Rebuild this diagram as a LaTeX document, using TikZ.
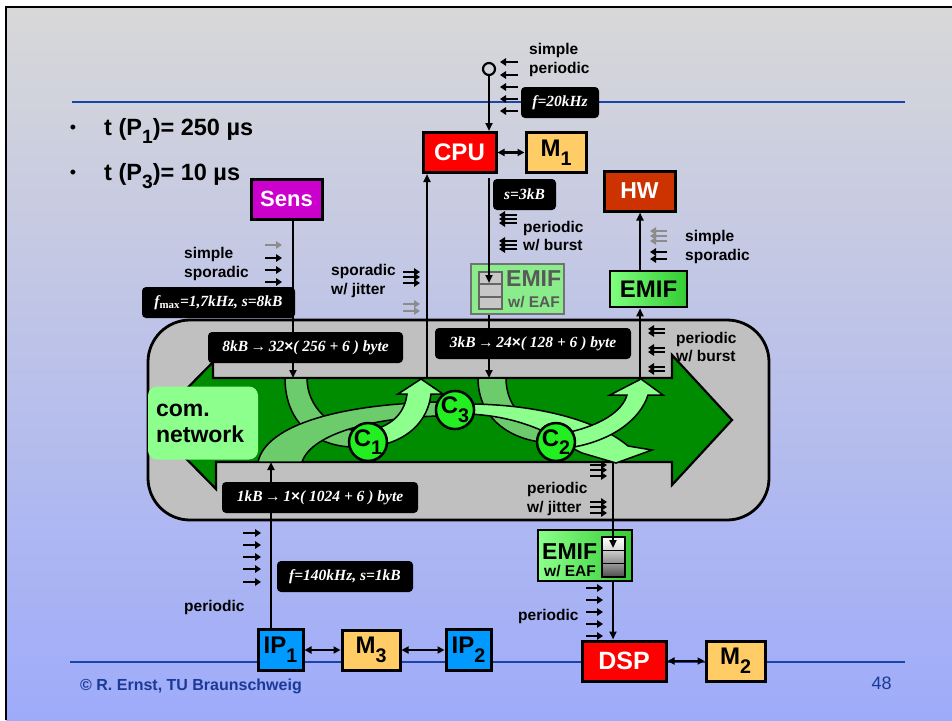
\documentclass[tikz,border=0pt]{standalone}
\usepackage{fontspec}
\usepackage{graphicx}
\setmainfont{Liberation Sans}
\newfontfamily\tms{Liberation Serif}
\usetikzlibrary{arrows.meta,positioning}
\definecolor{slidetop}{HTML}{D8D8D8}
\definecolor{slidebot}{HTML}{9EABFA}
\definecolor{ruleblue}{HTML}{1A44A8}
\definecolor{textblue}{HTML}{1A3A96}
\definecolor{memfill}{HTML}{FFCC66}
\definecolor{ipfill}{HTML}{0099FF}
\definecolor{hwfill}{HTML}{CC3300}
\definecolor{sensfill}{HTML}{CC00CC}
\definecolor{netgray}{HTML}{C0C0C0}
\definecolor{netgreen}{HTML}{008C00}
\definecolor{flowlight}{HTML}{8CFF8C}
\definecolor{flowmid}{HTML}{6CCC6C}
\definecolor{ctrlgreen}{HTML}{22EE22}
\definecolor{emifdark}{HTML}{33CC33}
\newcommand\lo[1]{\raisebox{-.36em}{\scalebox{.82}{#1}}}
\newcommand\fs[1]{\fontsize{#1}{#1}\selectfont}

\begin{document}
\begin{tikzpicture}[x=1pt,y=-1pt,
  blk/.style={draw=black, line width=3pt, inner sep=0pt, font=\fs{24}\bfseries},
  proc/.style={blk, fill=red, text=white},
  mem/.style={blk, fill=memfill, minimum height=40pt},
  ipbox/.style={blk, fill=ipfill, minimum width=45pt, minimum height=41pt},
  tag/.style={fill=black, rounded corners=4pt, text=white, inner sep=0pt, minimum height=31pt,
              font=\tms\fs{15.5}\bfseries\itshape},
  note/.style={anchor=west, inner sep=0pt, align=left, font=\fontsize{15.5}{18.5}\selectfont\bfseries},
  ctrl/.style={circle, draw=black, line width=2.5pt, fill=ctrlgreen, minimum size=37pt,
               inner sep=0pt, font=\fs{24}\bfseries},
  band/.style={draw=black, line width=1.5pt},
  arr/.style={-{Triangle[length=8pt,width=7pt]}, line width=2.2pt},
  darr/.style={{Triangle[length=7pt,width=7pt]}-{Triangle[length=7pt,width=7pt]}, line width=2.2pt},
  tick/.style={-{Triangle[length=6pt,width=7.5pt]}, line width=2.8pt}
]
  \useasboundingbox (0,0) rectangle (952,720);
  \fill[white] (0,0) rectangle (952,720);
  \shade[top color=slidetop, bottom color=slidebot] (6,7) rectangle (952,720);
  \draw[line width=2pt] (6,720) -- (6,7) -- (952,7);
  \draw[ruleblue, line width=1.2pt] (72,102) -- (905,102);
  \draw[ruleblue, line width=1.2pt] (70,662) -- (905,662);

  % bullets and footer
  \node[font=\fs{18}] (dot1) at (73,129) {•};
  \node[font=\fs{18}] (dot3) at (73,174) {•};
  \node[anchor=base west, inner sep=0pt, font=\fs{23.5}\bfseries] (tp1) at (104,135) {t (P\lo{1})= 250 µs};
  \node[anchor=base west, inner sep=0pt, font=\fs{23.5}\bfseries] (tp3) at (104,180) {t (P\lo{3})= 10 µs};
  \node[anchor=west, inner sep=0pt, text=textblue, font=\fs{16}\bfseries] (copy) at (80,686) {© R. Ernst, TU Braunschweig};
  \node[text=textblue, font=\fs{18}] (page) at (881.5,683.5) {48};

  % communication network
  \draw[fill=netgray, line width=2.8pt, rounded corners=42pt] (148,320) rectangle (769,520);
  \draw[fill=netgreen, line width=2.2pt] (152,424) -- (213,362) -- (213,378) -- (672,378) -- (672,355)
    -- (732,420) -- (672,485) -- (672,462) -- (216,462) -- (216,489) -- cycle;
  \coordinate (pS) at (293,378);
  \coordinate (pC) at (427,378);
  \coordinate (pE) at (489,378);
  \coordinate (pH) at (640,378);
  \coordinate (pI) at (271,462);
  \coordinate (pD) at (613,462);

  % flows through the controllers
  \draw[band, fill=flowmid] (285,378) .. controls (285,425) and (318,446) .. (352,447) -- (352,430)
    .. controls (332,427) and (307,408) .. (307,378) -- cycle;
  \draw[band, fill=flowmid] (258,462) .. controls (266,425) and (340,404) .. (440,402) -- (440,416)
    .. controls (380,417) and (312,432) .. (302,462) -- cycle;
  \draw[band, fill=flowmid] (478,378) .. controls (478,415) and (505,437) .. (540,442) -- (543,426)
    .. controls (522,421) and (506,404) .. (506,378) -- cycle;
  \draw[band, fill=flowlight] (372,430) .. controls (393,425) and (405,412) .. (407,394) -- (398,394)
    -- (421,379) -- (443,394) -- (431,394) .. controls (428,420) and (410,438) .. (382,445) -- cycle;
  \draw[band, fill=flowlight] (468,404) .. controls (530,404) and (595,418) .. (628,446) -- (652,450)
    -- (616,463) -- (582,453) -- (576,450) .. controls (555,435) and (520,416) .. (468,414) -- cycle;
  \draw[band, fill=flowlight] (570,432) .. controls (600,425) and (622,412) .. (627,395) -- (610,395)
    -- (641,379) -- (663,395) -- (648,395) .. controls (640,420) and (612,440) .. (574,447) -- cycle;

  % components
  \node[proc, minimum width=73pt, minimum height=40pt] (cpu) at (459.5,152.5) {CPU};
  \node[mem, minimum width=60pt, right=27pt of cpu] (m1) {M\lo{1}};
  \node[blk, fill=hwfill, text=white, minimum width=71pt, minimum height=40pt, font=\fs{23}\bfseries] (hw) at (639.5,191) {HW};
  \node[blk, fill=sensfill, text=white, minimum width=71pt, minimum height=40pt, font=\fs{22}\bfseries] (sens) at (286.5,199) {Sens};
  \node[ipbox] (ip1) at (280.5,650) {IP\lo{1}};
  \node[mem, minimum width=58pt, right=36pt of ip1] (m3) {M\lo{3}};
  \node[ipbox, right=43pt of m3] (ip2) {IP\lo{2}};
  \node[proc, minimum width=84pt, minimum height=40pt, font=\fs{25}\bfseries] (dsp) at (624,661) {DSP};
  \node[mem, minimum width=59pt, right=37pt of dsp] (m2) {M\lo{2}};
  \node[circle, draw, line width=2.2pt, minimum size=12pt, inner sep=0pt] (clk) at (489,69) {};

  % interfaces
  \node[draw=black!55, line width=2.5pt, fill=flowlight!85!gray, minimum width=93pt, minimum height=50pt, inner sep=0pt] (emifa) at (517.5,289) {};
  \foreach \k in {0,1,2}
    \draw[draw=black!60, line width=2pt, fill=black!22] (479,{272+12.33*\k}) rectangle ++(23,12.33);
  \node[anchor=west, inner sep=0pt, text=black!65, font=\fs{23}\bfseries] (emifat) at (506,279) {EMIF};
  \node[anchor=west, inner sep=0pt, text=black!65, font=\fs{15.5}\bfseries] (emifas) at (508,302) {w/ EAF};
  \node[draw=black, line width=2.5pt, left color=flowlight!90!green, right color=emifdark, minimum width=77pt, minimum height=36pt, inner sep=0pt, font=\fs{24}\bfseries] (emifb) at (648.5,289) {EMIF};
  \node[draw=black, line width=2.5pt, left color=flowlight, right color=emifdark, minimum width=94pt, minimum height=51pt, inner sep=0pt] (emifc) at (585,555.5) {};
  \shade[draw=black, line width=1.5pt, top color=white, bottom color=black!15] (602,537) rectangle (625,550.3);
  \shade[draw=black, line width=1.5pt, top color=black!20, bottom color=black!45] (602,550.3) rectangle (625,563.6);
  \shade[draw=black, line width=1.5pt, top color=black!40, bottom color=black!70] (602,563.6) rectangle (625,577);
  \node[anchor=west, inner sep=0pt, font=\fs{23}\bfseries] (emifct) at (542,552) {EMIF};
  \node[anchor=west, inner sep=0pt, font=\fs{15.5}\bfseries] (emifcs) at (544,571) {w/ EAF};
  \coordinate (qa) at (489,283);
  \coordinate (qc) at (613,548);

  % connections
  \draw[arr] (clk) -- (clk |- cpu.north);
  \draw[darr] (cpu) -- (m1);
  \draw[arr] (pS |- sens.south) -- (pS);
  \draw[arr] (pC) -- (pC |- cpu.south);
  \draw[arr, shorten <=4pt] (pE |- cpu.south) -- (qa);
  \draw[arr] (pE |- emifa.south) -- (pE);
  \draw[arr] (pH) -- (pH |- emifb.south);
  \draw[arr] (pH |- emifb.north) -- (pH |- hw.south);
  \draw[arr] (pI |- ip1.north) -- (pI);
  \draw[arr] (pD) -- (qc);
  \draw[arr] (pD |- emifc.south) -- (pD |- dsp.north);
  \draw[darr] (ip1) -- (m3);
  \draw[darr] (m3) -- (ip2);
  \draw[darr] (dsp) -- (m2);

  % stream parameters
  \node[tag, minimum width=78pt] (f20) at (560,102.5) {f=20kHz};
  \node[tag, minimum width=63pt] (s3) at (524.5,194.5) {s=3kB};
  \node[tag, minimum width=153pt] (fmax) at (218.5,302.5) {f\textsubscript{\upshape max}=1,7kHz, s=8kB};
  \node[tag, minimum width=195pt] (pk8) at (305.5,347.5) {8kB\,→\,32{\upshape\rmfamily×}( 256 + 6 ) byte};
  \node[tag, minimum width=196pt] (pk3) at (533,343.5) {3kB\,→\,24{\upshape\rmfamily×}( 128 + 6 ) byte};
  \node[tag, minimum width=196pt] (pk1) at (320,497.5) {1kB\,→\,1{\upshape\rmfamily×}( 1024 + 6 ) byte};
  \node[tag, minimum width=136pt] (f140) at (345,576.5) {f=140kHz, s=1kB};

  % event models
  \foreach \y in {62,75,87,99,111} \draw[tick] (518,\y) -- (500,\y);
  \foreach \y in {215,219,223,241,245,249} \draw[tick] (517,\y) -- (499,\y);
  \draw[tick, black!45] (265,245) -- (282,245);
  \foreach \y in {258,270,282} \draw[tick] (265,\y) -- (282,\y);
  \foreach \y in {272,277,283} \draw[tick] (403,\y) -- (420,\y);
  \foreach \y in {304,311} \draw[tick, black!45] (403,\y) -- (420,\y);
  \foreach \y in {231,236,241} \draw[tick, black!45] (667,\y) -- (650,\y);
  \foreach \y in {252,259} \draw[tick] (667,\y) -- (650,\y);
  \foreach \y in {329,333,348,352,367,371} \draw[tick] (665,\y) -- (648,\y);
  \foreach \y in {465,470,476,502,507,513} \draw[tick] (590,\y) -- (607,\y);
  \foreach \y in {588,600,612,624,636} \draw[tick] (586,\y) -- (603,\y);
  \foreach \y in {533,545,557,569,582} \draw[tick] (243,\y) -- (261,\y);
  \node[note] (nclk) at (529,60) {simple\\periodic};
  \node[note] (nburst) at (523,236) {periodic\\w/ burst};
  \node[note] (nsens) at (184,264) {simple\\sporadic};
  \node[note] (njit) at (331,281) {sporadic\\w/ jitter};
  \node[note] (nhw) at (685,247) {simple\\sporadic};
  \node[note] (nburst2) at (676,347) {periodic\\w/ burst};
  \node[note] (njit2) at (527,499) {periodic\\w/ jitter};
  \node[note] (ndsp) at (518,616) {periodic};
  \node[note] (nip) at (184,607) {periodic};

  % network label and controllers
  \node[fill=flowlight, rounded corners=9pt, minimum width=110pt, minimum height=73pt, inner sep=0pt,
        text width=94pt, align=left, font=\fontsize{23}{26}\selectfont\bfseries] (com) at (203,423) {com.\\network};
  \node[ctrl] (c1) at (368,442) {C\lo{1}};
  \node[ctrl] (c3) at (455,410) {C\lo{3}};
  \node[ctrl] (c2) at (556,442) {C\lo{2}};
\end{tikzpicture}
\end{document}
